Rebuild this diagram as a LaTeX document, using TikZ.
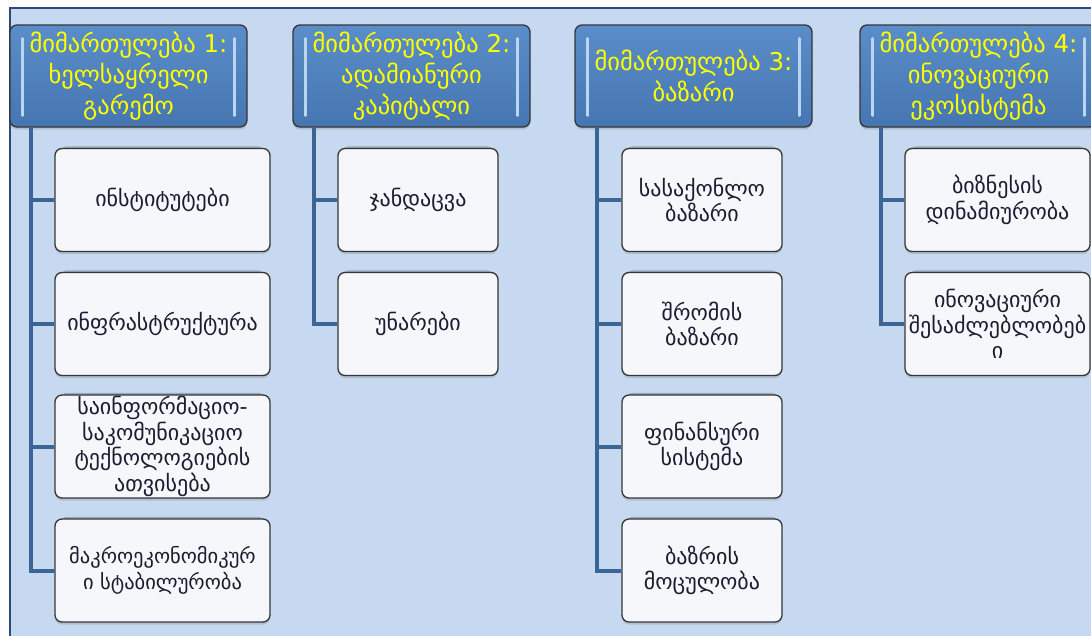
\documentclass[tikz,border=0pt]{standalone}
\usepackage{fontspec}
\newfontfamily\geo{DejaVu Sans}
\usetikzlibrary{shadows}
\definecolor{bgblue}{HTML}{C6D9F1}
\definecolor{frameblue}{HTML}{2B4A78}
\definecolor{headfill}{HTML}{4F81BD}
\definecolor{headtop}{HTML}{5A8DC9}
\definecolor{headbot}{HTML}{4676B2}
\definecolor{hilite}{HTML}{B9D5F2}
\definecolor{boxborder}{HTML}{363636}
\definecolor{childfill}{HTML}{F5F7FB}
\definecolor{childtext}{HTML}{1C1C30}
\definecolor{connblue}{HTML}{3B6594}
\definecolor{headtext}{HTML}{FFFF00}
\tikzset{
  header/.style={draw=boxborder, line width=1.3pt, rounded corners=7pt,
    top color=headtop, bottom color=headbot, minimum width=237pt, minimum height=102pt,
    align=center, text=headtext, font=\geo\fontsize{24.5}{31}\selectfont, inner sep=1pt,
    drop shadow={opacity=0.3, shadow xshift=0pt, shadow yshift=-2.5pt}},
  child/.style={draw=boxborder, line width=1.3pt, rounded corners=7pt, fill=childfill,
    minimum height=103pt, align=center, text=childtext,
    font=\geo\fontsize{22}{25.5}\selectfont, inner sep=1pt,
    general shadow={shadow scale=0.95, shadow yshift=5pt, fill=black, opacity=0.22},
    drop shadow={opacity=0.3, shadow xshift=0pt, shadow yshift=-2.5pt}},
  wideb/.style={minimum width=215pt},
  narrowb/.style={minimum width=160pt},
  lastb/.style={minimum width=185pt},
  conn/.style={draw=connblue, line width=4pt},
  hl/.style={draw=hilite, line width=2.5pt, line cap=round},
}
\begin{document}
\begin{tikzpicture}[x=1pt,y=-1pt]
\useasboundingbox (0,0) rectangle (1091,635);
% background panel
\fill[bgblue] (10,8) rectangle (1100,640);
\draw[frameblue, line width=1.5pt] (10,640) -- (10,8) -- (1100,8);

% headers
\node[header] (h1) at (128.5,76) {მიმართულება 1:\\ხელსაყრელი\\გარემო};
\node[header] (h2) at (411.5,76) {მიმართულება 2:\\ადამიანური\\კაპიტალი};
\node[header] (h3) at (693.5,76) {მიმართულება 3:\\ბაზარი};
\node[header] (h4) at (978.5,76) {მიმართულება 4:\\ინოვაციური\\ეკოსისტემა};
\foreach \h in {h1,h2,h3,h4}{
  \draw[hl] ([xshift=13pt,yshift=-14pt]\h.north west) -- ([xshift=13pt,yshift=12pt]\h.south west);
  \draw[hl] ([xshift=-13pt,yshift=-14pt]\h.north east) -- ([xshift=-13pt,yshift=12pt]\h.south east);
}

% column 1
\node[child,wideb] (c11) at (162.5,200) {ინსტიტუტები};
\node[child,wideb] (c12) at (162.5,324) {ინფრასტრუქტურა};
\node[child,wideb] (c13) at (162.5,446.5) {საინფორმაციო-\\საკომუნიკაციო\\ტექნოლოგიების\\ათვისება};
\node[child,wideb,font=\geo\fontsize{20.5}{25.5}\selectfont] (c14) at (162.5,570.5) {მაკროეკონომიკურ\\ი სტაბილურობა};
% column 2
\node[child,narrowb] (c21) at (418,200) {ჯანდაცვა};
\node[child,narrowb] (c22) at (418,324) {უნარები};
% column 3
\node[child,narrowb] (c31) at (702,200) {სასაქონლო\\ბაზარი};
\node[child,narrowb] (c32) at (702,324) {შრომის\\ბაზარი};
\node[child,narrowb] (c33) at (702,446.5) {ფინანსური\\სისტემა};
\node[child,narrowb] (c34) at (702,570.5) {ბაზრის\\მოცულობა};
% column 4
\node[child,lastb] (c41) at (997.5,200) {ბიზნესის\\დინამიურობა};
\node[child,lastb] (c42) at (997.5,324) {ინოვაციური\\შესაძლებლობებ\\ი};

% connectors
\foreach \c in {c11,c12,c13,c14}{\draw[conn] ([xshift=22pt]h1.south west) |- (\c.west);}
\foreach \c in {c21,c22}{\draw[conn] ([xshift=22pt]h2.south west) |- (\c.west);}
\foreach \c in {c31,c32,c33,c34}{\draw[conn] ([xshift=23pt]h3.south west) |- (\c.west);}
\foreach \c in {c41,c42}{\draw[conn] ([xshift=22pt]h4.south west) |- (\c.west);}
\end{tikzpicture}
\end{document}
